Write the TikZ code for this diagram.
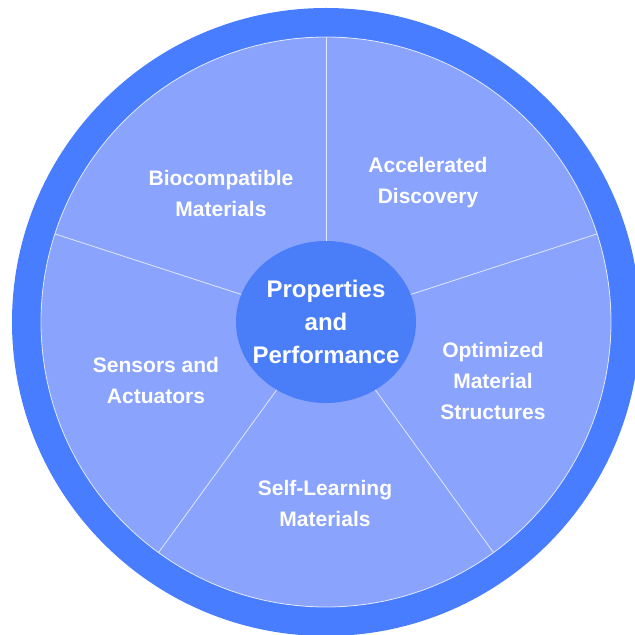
\documentclass[tikz,border=0pt]{standalone}
\usepackage{fontspec}
\setmainfont{Liberation Sans}
\usetikzlibrary{shapes.geometric,calc}
\definecolor{ringblue}{HTML}{487DFF}
\definecolor{sectorblue}{HTML}{8AA3FC}
\definecolor{coreblue}{HTML}{4A7EF8}
\tikzset{
  sectortext/.style={text=white, align=center, font=\bfseries\fontsize{21}{31}\selectfont, inner sep=0pt},
  divider/.style={draw=white, draw opacity=0.75, line width=0.8pt},
}
\begin{document}
\begin{tikzpicture}[x=1pt,y=1pt]
\useasboundingbox (0,0) rectangle (635,635);
\coordinate (c) at (326,313);
% outer ring
\draw[ringblue, line width=29pt] (c) circle (299.5);
% light disc
\fill[sectorblue] (c) circle (285);
\draw[divider] (c) circle (285);
% dividers
\foreach \a/\n in {90/a,162/b,234/d,306/e,18/f}{
  \coordinate (edge\n) at ($(c)+(\a:285)$);
}
\node[ellipse, fill=coreblue, minimum width=180pt, minimum height=162pt, inner sep=0pt] (core) at (326,313) {};
\node[text=white, align=center, inner sep=0pt, font=\bfseries\fontsize{24}{33}\selectfont] (coretext) at (core.center)
  {Properties\\and\\Performance};
\foreach \a/\n in {90/a,162/b,234/d,306/e,18/f}{
  \draw[divider] (core.\a) -- (edge\n);
}
\node[sectortext] (bio) at (221,441.5) {Biocompatible\\Materials};
\node[sectortext] (acc) at (428,452.5) {Accelerated\\Discovery};
\node[sectortext] (opt) at (493,254.5) {Optimized\\Material\\Structures};
\node[sectortext] (self) at (325,132) {Self-Learning\\Materials};
\node[sectortext] (sens) at (156,254.5) {Sensors and\\Actuators};
\end{tikzpicture}
\end{document}
